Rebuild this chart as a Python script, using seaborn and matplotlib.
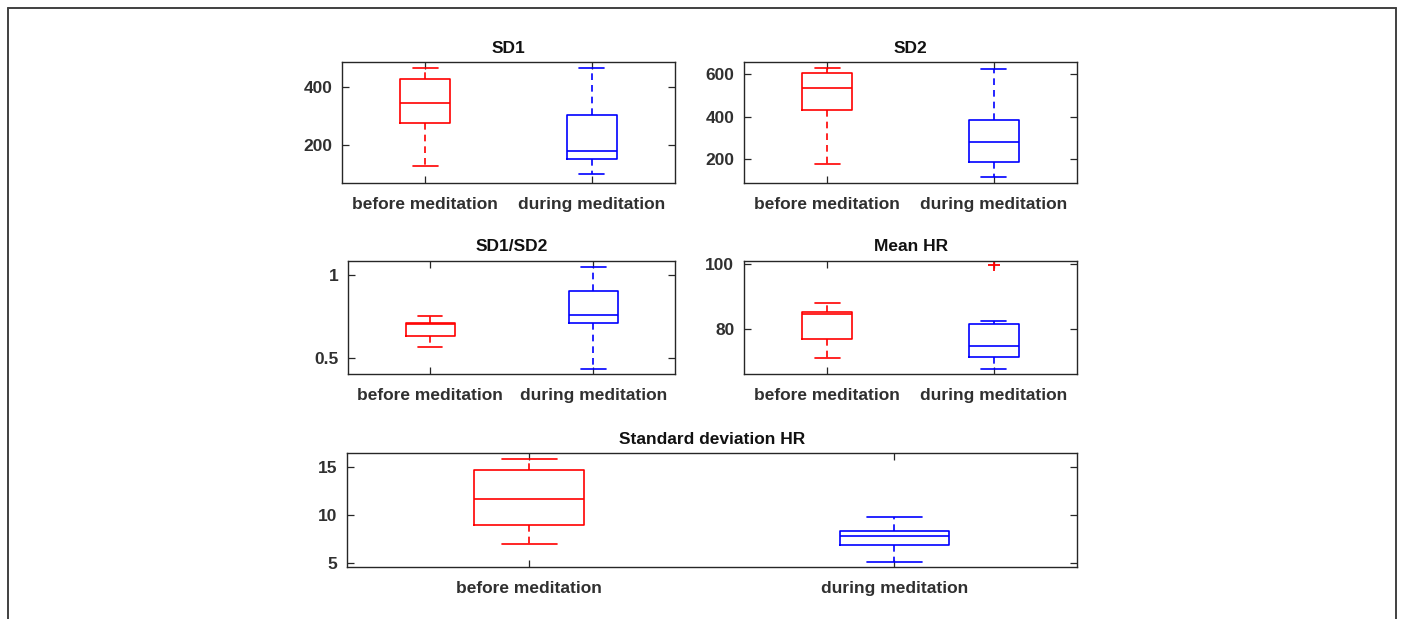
import matplotlib
matplotlib.use('Agg')
import matplotlib.pyplot as plt
from matplotlib.lines import Line2D
import pandas as pd
import seaborn as sns

# categorias e valores
fases = ['before meditation', 'during meditation']

sd1_antes = [126, 274, 343, 427, 466]
sd1_durante = [99, 149, 177, 304, 465]

sd2_antes = [178, 431, 533, 603, 627]
sd2_durante = [118, 186, 281, 384, 623]

razao_antes = [0.564, 0.634, 0.703, 0.712, 0.750]
razao_durante = [0.432, 0.710, 0.760, 0.902, 1.046]

hr_antes = [71.1, 76.9, 84.7, 85.3, 88.1]
hr_durante = [67.7, 69.5, 71.4, 73.0, 75.0, 78.5, 81.6, 82.6, 99.7]

dp_hr_antes = [6.92, 8.96, 11.6, 14.62, 15.84]
dp_hr_durante = [5.04, 6.8, 7.82, 8.27, 9.8]

cores = {'before meditation': '#ff0000', 'during meditation': '#0000ff'}


def monta_df(antes, durante):
    return pd.DataFrame({
        'fase': [fases[0]] * len(antes) + [fases[1]] * len(durante),
        'valor': list(antes) + list(durante),
    })


sns.set_theme(style='white')
plt.rcParams['font.family'] = ['Liberation Sans', 'DejaVu Sans']

fig = plt.figure(figsize=(14.04, 6.19), dpi=100)

paineis = [
    ('SD1', sd1_antes, sd1_durante, [0.2436, 0.7039, 0.2372, 0.1955], (66, 486), [200, 400], ['200', '400']),
    ('SD2', sd2_antes, sd2_durante, [0.5299, 0.7039, 0.2374, 0.1955], (87.5, 655), [200, 400, 600], ['200', '400', '600']),
    ('SD1/SD2', razao_antes, razao_durante, [0.2481, 0.3953, 0.2327, 0.1830], (0.402, 1.082), [0.5, 1], ['0.5', '1']),
    ('Mean HR', hr_antes, hr_durante, [0.5299, 0.3953, 0.2374, 0.1830], (66.2, 101), [80, 100], ['80', '100']),
    ('Standard deviation HR', dp_hr_antes, dp_hr_durante, [0.2469, 0.0845, 0.5202, 0.1832], (4.58, 16.4), [5, 10, 15], ['5', '10', '15']),
]

for titulo, antes, durante, pos, limites, ticks, rotulos in paineis:
    ax = fig.add_axes(pos)
    df = monta_df(antes, durante)
    sns.boxplot(
        data=df, x='fase', y='valor', hue='fase', palette=cores,
        order=fases, hue_order=fases, fill=False, width=0.3,
        whis=1.5, linewidth=1.2, legend=False,
        whiskerprops={'linestyle': (0, (4, 3))},
        flierprops={'marker': '+', 'markeredgecolor': '#ff0000',
                    'markersize': 9, 'markeredgewidth': 1.3},
        ax=ax,
    )
    ax.set_ylim(*limites)
    ax.set_xlim(-0.5, 1.5)
    ax.set_yticks(ticks)
    ax.set_yticklabels(rotulos)
    ax.set_xlabel('')
    ax.set_ylabel('')
    ax.set_title(titulo, fontsize=12.5, fontweight='bold', color='#111111', pad=7)
    ax.tick_params(axis='both', direction='in', length=5, width=0.9,
                   color='#262626', labelsize=12.5, labelcolor='#303030',
                   top=True, right=True, bottom=True, left=True)
    ax.tick_params(axis='x', pad=10)
    ax.tick_params(axis='y', pad=7)
    for rotulo in ax.get_xticklabels() + ax.get_yticklabels():
        rotulo.set_fontweight('bold')
    for spine in ax.spines.values():
        spine.set_visible(True)
        spine.set_color('#262626')
        spine.set_linewidth(1.0)

# moldura em volta da figura
moldura = dict(color='#404040', linewidth=1.4, transform=fig.transFigure)
fig.add_artist(Line2D([8 / 1404, 1396 / 1404], [1 - 8 / 619, 1 - 8 / 619], **moldura))
fig.add_artist(Line2D([8 / 1404, 8 / 1404], [0, 1 - 8 / 619], **moldura))
fig.add_artist(Line2D([1396 / 1404, 1396 / 1404], [0, 1 - 8 / 619], **moldura))

fig.savefig('out.png', dpi=100, facecolor='white')
